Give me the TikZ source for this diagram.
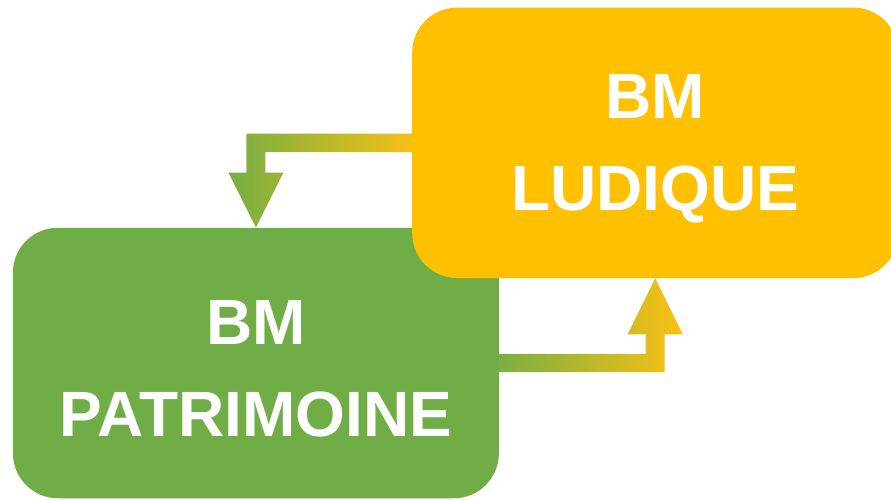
\documentclass[tikz,border=0pt]{standalone}
\usepackage{fontspec}
\setmainfont{Liberation Sans}
\usetikzlibrary{calc,backgrounds}
\definecolor{bmgreen}{RGB}{112,173,71}
\definecolor{bmyellow}{RGB}{255,192,0}
\definecolor{argreen}{RGB}{118,174,68}
\definecolor{aryellow}{RGB}{250,193,20}
\newcommand{\bmstrut}{\rule{0pt}{56pt}}
\tikzset{
  bmbox/.style={rounded corners=45pt, minimum width=486pt, minimum height=270.5pt,
    inner sep=0pt, text=white, align=center,
    font=\fontsize{64}{91.6}\selectfont\bfseries},
  bmarrow/.style={left color=argreen, right color=aryellow, draw=none}
}
\begin{document}
\begin{tikzpicture}[x=1pt,y=-1pt]
\useasboundingbox (0,0) rectangle (891,499);
\node[bmbox, fill=bmgreen] (G) at (255.9,363) {\bmstrut BM\\PATRIMOINE};
\node[bmbox, fill=bmyellow] (Y) at (655.2,142.8) {\bmstrut BM\\LUDIQUE};
\begin{scope}[on background layer]
  \coordinate (C) at (G.north |- Y.west);
  \shade[bmarrow] ($(Y.west)+(8,-9.2)$) -- ($(C)+(-9.5,-9.2)$) -- ($(G.north)+(-9.5,-55)$)
    -- ($(G.north)+(-27.5,-55)$) -- (G.north) -- ($(G.north)+(27.5,-55)$)
    -- ($(G.north)+(9.5,-55)$) -- ($(C)+(9.5,9.2)$) -- ($(Y.west)+(8,9.2)$) -- cycle;
  \coordinate (D) at (Y.south |- G.east);
  \shade[bmarrow] ($(G.east)+(-8,-9.2)$) -- ($(D)+(-9.5,-9.2)$) -- ($(Y.south)+(-9.5,56)$)
    -- ($(Y.south)+(-27.5,56)$) -- (Y.south) -- ($(Y.south)+(27.5,56)$)
    -- ($(Y.south)+(9.5,56)$) -- ($(D)+(9.5,9.2)$) -- ($(G.east)+(-8,9.2)$) -- cycle;
\end{scope}
\end{tikzpicture}
\end{document}
